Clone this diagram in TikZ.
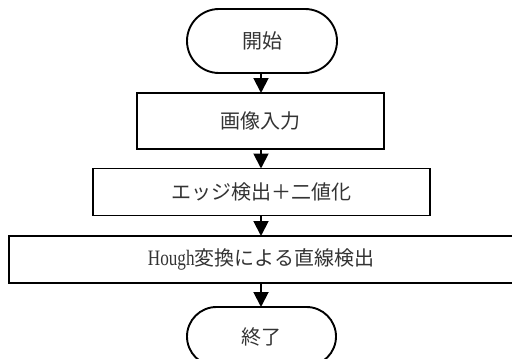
\documentclass[tikz,border=0pt]{standalone}
\usepackage{fontspec}
\newfontfamily\jpfont{Noto Sans CJK JP}
\newfontfamily\latfont[FakeStretch=0.78]{Liberation Serif}
\usetikzlibrary{shapes.misc,arrows.meta}
\begin{document}
\begin{tikzpicture}[x=1pt,y=-1pt,
  every node/.style={inner sep=0pt,outer sep=0pt,font=\jpfont\fontsize{20}{20}\selectfont,text=black!80},
  term/.style={draw=black,line width=1.9pt,rounded rectangle,minimum width=#1},
  proc/.style={draw=black,line width=1.9pt,rectangle,minimum width=#1},
  flow/.style={line width=1.9pt,-{Triangle[width=15pt,length=15pt]}}]
\useasboundingbox (0,0) rectangle (512,359);
\clip (0,0) rectangle (512,359);
\node[term=150pt,minimum height=64pt] (start) at (262,41) {開始};
\node[proc=247pt,minimum height=56pt] (p1) at (260.5,121) {画像入力};
\node[proc=337pt,minimum height=47pt] (p2) at (261.5,192) {エッジ検出＋二値化};
\node[proc=504pt,minimum height=47pt] (p3) at (261,259.5) {{\latfont\fontsize{22}{22}\selectfont Hough}変換による直線検出};
\node[term=149pt,minimum height=59pt] (stop) at (261.5,336.5) {終了};
\draw[flow] (start.south -| 261,0) -- (p1.north -| 261,0);
\draw[flow] (p1.south -| 261,0) -- (p2.north -| 261,0);
\draw[flow] (p2.south -| 261,0) -- (p3.north -| 261,0);
\draw[flow] (p3.south -| 261,0) -- (stop.north -| 261,0);
\end{tikzpicture}
\end{document}
